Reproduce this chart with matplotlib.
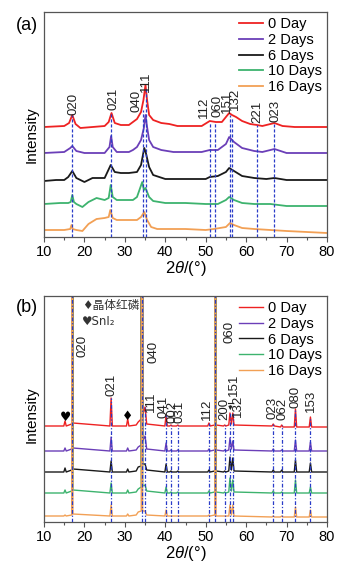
import matplotlib
matplotlib.use("Agg")
import matplotlib.pyplot as plt

plt.rcParams['font.family'] = ['Liberation Sans', 'DejaVu Sans', 'Noto Sans CJK SC']
plt.rcParams['mathtext.fontset'] = 'custom'
plt.rcParams['mathtext.rm'] = 'Liberation Sans'
plt.rcParams['mathtext.it'] = 'Liberation Sans:italic'

# ---------------- data ----------------
series_names = ['0 Day', '2 Days', '6 Days', '10 Days', '16 Days']
series_colors = ['#ee2222', '#6b3fb8', '#1a1a1a', '#3db36e', '#f2a055']

# Panel (a): broad patterns (relative intensity above each trace's baseline)
a_x = {
    '0 Day':   [10, 15, 16.2, 17.0, 17.8, 19, 22, 25, 26.0, 26.7, 27.5, 29, 31, 32, 33, 34, 34.6, 35.1, 35.5, 36, 37, 39, 41, 43, 49, 51, 52.5, 54, 55, 55.8, 56.5, 57.5, 59, 61, 62.7, 64, 67, 69, 72, 80],
    '2 Days':  [10, 15, 16.5, 17.0, 18, 20, 25, 26.2, 26.6, 27.0, 28, 31, 32, 33, 34, 34.7, 35.1, 35.5, 36, 37, 39, 42, 49, 51, 53, 55, 55.8, 57, 59, 62, 64, 67, 70, 80],
    '6 Days':  [10, 13, 15, 16, 17.0, 18, 20, 22, 25, 26.5, 27.5, 29, 31, 33, 34, 34.8, 35.2, 36, 37, 40, 45, 50, 51, 53, 55, 55.8, 57, 59, 62, 65, 67, 70, 80],
    '10 Days': [10, 14, 16, 16.6, 17.0, 17.4, 18, 19.5, 21, 23, 25, 26.0, 26.5, 27, 28, 32, 33, 34.3, 34.7, 35.1, 36, 37, 40, 45, 50, 53, 55, 55.8, 57, 59, 62, 66, 70, 80],
    '16 Days': [10, 12, 15, 16.5, 16.8, 17.1, 18, 19.5, 21, 23, 25, 26.0, 26.4, 27, 28, 32, 33, 34, 34.8, 35.5, 36.5, 38, 45, 50, 52, 55, 56, 57, 59, 62, 66, 70, 80],
}
a_y = {
    '0 Day':   [0, 1, 4, 12, 3, -1, 0, 1, 5, 14, 4, 2, 2, 5, 8, 15, 27, 42, 27, 12, 7, 4, 3, 1, 1, 6, 5, 5, 10, 14, 12, 10, 6, 3, 2, 1, 4, 1, 0, 0],
    '2 Days':  [0, 1, 5, 7, 2, 0, 0, 6, 17, 6, 1, 1, 3, 6, 13, 25, 38, 26, 13, 6, 3, 1, 1, 3, 3, 9, 16, 11, 5, 2, 1, 4, 0, 0],
    '6 Days':  [-1, 0, 0, 3, 9, 2, -2, 2, 2, 15, 8, 7, 7, 8, 15, 32, 27, 13, 5, 1, 1, 1, 3, 4, 8, 12, 9, 4, 2, 1, 2, 0, 0],
    '10 Days': [1, 2, 2, 3, 10, 3, 1, -2, 3, 7, 5, 7, 20, 8, 5, 5, 8, 23, 15, 17, 8, 4, 2, 2, 1, 1, 5, 8, 5, 2, 1, 1, -1, -1],
    '16 Days': [2, 2, 2, 3, 7, 3, 2, 1, 8, 13, 14, 15, 22, 14, 12, 12, 12, 15, 20, 12, 5, 3, 3, 2, 3, 5, 9, 7, 4, 3, 2, 1, -1],
}
a_offsets = [110, 84, 57, 32, 5]

a_lines = [17.0, 26.6, 34.4, 35.2, 51.0, 52.2, 55.9, 56.6, 62.7, 66.9]
a_line_tops = [122, 124, 127, 150, 115, 115, 122, 120, 112, 113]
a_labels = ['020', '021', '040', '111', '112', '060', '151', '132', '221', '023']
a_label_x = [17.2, 27.1, 33.0, 35.2, 49.6, 52.8, 55.3, 57.3, 62.7, 67.2]
a_label_y = [122, 127, 125, 145, 119, 120, 124, 127, 114, 115]

# Panel (b): sharp patterns (relative intensity above each trace's baseline)
b_x = [10, 14.9, 15.2, 15.5, 16.85, 17.0, 17.15, 26.3, 26.6, 26.9, 30.4, 30.7, 31.0, 32.8, 33.3, 34.05,
       34.2, 34.4, 35.0, 35.4, 39.9, 40.2, 40.5, 41.1, 41.4, 41.7, 42.8, 43.1, 43.4, 50.5, 50.8, 51.1,
       52.25, 52.4, 52.55, 54.4, 54.7, 55.0, 55.7, 56.0, 56.35, 56.7, 57.0, 66.4, 66.7, 67.0, 68.5, 68.8,
       69.1, 71.9, 72.2, 72.5, 75.6, 75.9, 76.2, 80]
b_y = {
    '0 Day':   [1, 1, 6, 1, 3, 2000, 4, 1, 29, 1, 1, 8, 1, 2, 5, 8,
                2000, 12, 20, 3, 1, 12, 1, 1, 2, 1, 1, 2, 1, 1, 4, 1,
                2, 2000, 2, 1, 2, 1, 2, 14, 3, 14, 2, 1, 3, 1, 0, 2,
                0, 0, 18, 0, 0, 10, 0, 0],
    '2 Days':  [0, 0, 3, 0, 2, 2000, 3, 0, 14, 0, 0, 3, 0, 1, 4, 6,
                2000, 10, 15, 2, 0, 8, 0, 0, 1, 0, 0, 1, 0, 0, 2, 0,
                1, 2000, 1, 0, 1, 0, 1, 13, 2, 10, 1, 0, 2, 0, 0, 1,
                0, 0, 11, 0, 0, 9, 0, 0],
    '6 Days':  [0, 0, 4, 0, 2, 2000, 3, 0, 11, 0, 0, 3, 0, 1, 5, 6,
                2000, 8, 8, 2, 0, 8, 0, 0, 1, 0, 0, 1, 0, 0, 2, 0,
                1, 2000, 1, 0, 1, 0, 1, 15, 2, 14, 1, 0, 2, 0, 0, 2,
                0, 0, 12, 0, 0, 9, 0, 0],
    '10 Days': [0, 0, 3, 0, 2, 2000, 3, 0, 10, 0, 0, 3, 0, 1, 4, 6,
                2000, 7, 8, 2, 0, 6, 0, 0, 1, 0, 0, 1, 0, 0, 2, 0,
                1, 2000, 1, 0, 1, 0, 1, 15, 2, 13, 1, 0, 2, 0, 0, 1,
                0, 0, 13, 0, 0, 6, 0, 0],
    '16 Days': [1, 1, 2, 1, 2, 2000, 3, 1, 12, 1, 1, 3, 1, 2, 5, 6,
                2000, 6, 6, 2, 1, 7, 1, 1, 1, 1, 1, 1, 1, 1, 2, 1,
                2, 2000, 1, 1, 1, 1, 1, 12, 2, 12, 1, 0, 1, 0, 0, 1,
                0, 0, 10, 0, 0, 7, 0, 0],
}
b_offsets = [95, 71, 50, 29, 5]

b_lines = [17.0, 26.6, 34.2, 35.0, 40.2, 41.4, 43.1, 50.8, 52.4, 54.7, 56.0, 56.7, 66.7, 68.8, 72.2, 75.9]
b_line_tops = [226, 124, 226, 115, 107, 97, 97, 99, 226, 97, 109, 109, 98, 97, 113, 105]
b_labels = ['020', '040', '060', '021', '111', '041', '002', '031', '112', '200', '151', '132', '023', '062', '080', '153']
b_label_x = [19.6, 37.1, 56.0, 26.8, 36.5, 39.6, 41.7, 43.6, 50.2, 54.6, 57.0, 58.0, 66.6, 68.9, 72.1, 76.0]
b_label_y = [165, 159, 179, 126, 110, 104, 99, 99, 102, 102, 126, 105, 103, 102, 114, 110]

xticks = [10, 20, 30, 40, 50, 60, 70, 80]

# ---------------- figure ----------------
fig = plt.figure(figsize=(3.47, 5.70), dpi=100)
W, H = 347.0, 570.0
ax_a = fig.add_axes([44 / W, 1 - 237 / H, 283 / W, 225 / H])
ax_b = fig.add_axes([44 / W, 1 - 522 / H, 283 / W, 226 / H])

dash_color = '#2a3cc8'
spine_color = '#555555'
label_fs = 9.5


def style_axes(ax, ymax):
    ax.set_xlim(10, 80)
    ax.set_ylim(0, ymax)
    ax.set_yticks([])
    ax.set_xticks(xticks)
    ax.set_xticks(range(15, 80, 10), minor=True)
    ax.tick_params(axis='x', which='major', direction='out', length=3.5, width=0.8,
                   color=spine_color, labelsize=10.5, pad=2.5)
    ax.tick_params(axis='x', which='minor', direction='out', length=2, width=0.8, color=spine_color)
    for s in ax.spines.values():
        s.set_color(spine_color)
        s.set_linewidth(0.9)
    ax.set_xlabel('2$\\it{\\theta}$/(°)', fontsize=12, labelpad=0)


# Panel (a)
for name, color, off in zip(series_names, series_colors, a_offsets):
    ax_a.plot(a_x[name], [v + off for v in a_y[name]], color=color, lw=1.3, label=name, zorder=2)
for x, top in zip(a_lines, a_line_tops):
    ax_a.plot([x, x], [0, top], color=dash_color, lw=0.9, ls=(0, (2.5, 1.5)), zorder=3)
for t, x, y in zip(a_labels, a_label_x, a_label_y):
    ax_a.text(x, y, t, rotation=90, ha='center', va='bottom', fontsize=label_fs, color='#222222')
style_axes(ax_a, 225)

# Panel (b)
for name, color, off in zip(series_names, series_colors, b_offsets):
    ax_b.plot(b_x, [v + off for v in b_y[name]], color=color, lw=1.0, label=name, zorder=2)
for x, top in zip(b_lines, b_line_tops):
    ax_b.plot([x, x], [0, top], color=dash_color, lw=0.9, ls=(0, (3, 1.5, 1, 1.5)), zorder=3)
for t, x, y in zip(b_labels, b_label_x, b_label_y):
    ax_b.text(x, y, t, rotation=90, ha='center', va='bottom', fontsize=label_fs, color='#222222')
# 151 pointer
ax_b.plot([55.5, 56.8], [119, 119], color='#222222', lw=0.8, zorder=4)
ax_b.annotate('', xy=(56.1, 109), xytext=(56.1, 119),
              arrowprops=dict(arrowstyle='-|>', color='#222222', lw=0.8, mutation_scale=5), zorder=4)
# phase markers
ax_b.text(15.2, 104, '♥', ha='center', va='center', fontsize=9, family=['DejaVu Sans'])
ax_b.text(30.7, 105, '♦', ha='center', va='center', fontsize=9, family=['DejaVu Sans'])
ax_b.text(19.3, 217, '♦晶体红磷', ha='left', va='center', fontsize=8.5,
          family=['DejaVu Sans', 'Noto Sans CJK SC'], color='#333333')
ax_b.text(19.3, 200, '♥SnI₂', ha='left', va='center', fontsize=8.5,
          family=['DejaVu Sans'], color='#333333')
style_axes(ax_b, 226)

for ax in (ax_a, ax_b):
    ax.legend(loc='upper right', bbox_to_anchor=(1.0, 1.0), frameon=False, fontsize=10.5,
              handlelength=1.6, handletextpad=0.35, labelspacing=0.12, borderaxespad=0.15,
              borderpad=0.2)

fig.text(27 / W, 1 - 26 / H, '(a)', fontsize=13, ha='center', va='center')
fig.text(27 / W, 1 - 307 / H, '(b)', fontsize=13, ha='center', va='center')
fig.text(32 / W, 1 - 135 / H, 'Intensity', fontsize=11, rotation=90, ha='center', va='center')
fig.text(32 / W, 1 - 415 / H, 'Intensity', fontsize=11, rotation=90, ha='center', va='center')

fig.savefig('out.png', dpi=100)
